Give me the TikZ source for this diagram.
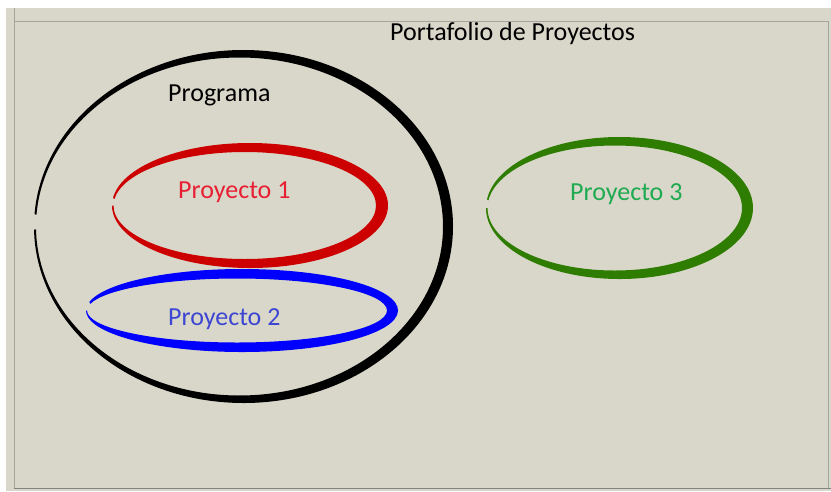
\documentclass[tikz,border=0pt]{standalone}
\usepackage{fontspec}
\setmainfont{Carlito}
\usepackage{tikz}
\usetikzlibrary{positioning}

\definecolor{fondo}{RGB}{217,215,202}
\definecolor{marco}{RGB}{165,164,156}
\definecolor{marcoosc}{RGB}{130,130,126}
\definecolor{rojo}{RGB}{204,0,0}
\definecolor{azul}{RGB}{0,0,255}
\definecolor{verde}{RGB}{46,125,0}
\definecolor{rojotxt}{RGB}{232,30,50}
\definecolor{azultxt}{RGB}{60,70,210}
\definecolor{verdetxt}{RGB}{30,170,80}

\begin{document}
\begin{tikzpicture}[x=1pt,y=-1pt,
    etiqueta/.style={anchor=base west,inner sep=0pt,font=\fontsize{26}{30}\selectfont}]
    \useasboundingbox (0,0) rectangle (831,491);

    % fondo y marco
    \fill[fondo] (6,8) rectangle (831,491);
    \draw[marco,line width=0.8pt] (14,8) -- (14,488);
    \draw[marco,line width=0.8pt] (14,21) -- (828,21) -- (828,488);
    \draw[marcoosc,line width=0.9pt] (14,488) -- (831,488);

    % programa (trazo negro)
    \fill[black] (243.5,226.5) ++(184:209.5 and 176.5)
        arc[start angle=184,end angle=539,x radius=209.5,y radius=176.5]
        -- ([shift={(239.5,226.5)}]539:203.5 and 169)
        arc[start angle=539,end angle=184,x radius=203.5,y radius=169] -- cycle;

    % proyecto 1
    \fill[rojo] (250,205.5) ++(187:138 and 62.5)
        arc[start angle=187,end angle=540,x radius=138,y radius=62.5]
        -- ([shift={(244.75,205.5)}]540:131.25 and 53.5)
        arc[start angle=540,end angle=187,x radius=131.25,y radius=53.5] -- cycle;

    % proyecto 2
    \fill[azul] (242,310.5) ++(192:156 and 41.5)
        arc[start angle=192,end angle=540,x radius=156,y radius=41.5]
        -- ([shift={(237,310.5)}]540:150 and 32)
        arc[start angle=540,end angle=192,x radius=150,y radius=32] -- cycle;

    % proyecto 3
    \fill[verde] (619.5,208) ++(187:133.5 and 71)
        arc[start angle=187,end angle=540,x radius=133.5,y radius=71]
        -- ([shift={(614.75,208)}]540:127.25 and 62.5)
        arc[start angle=540,end angle=187,x radius=127.25,y radius=62.5] -- cycle;

    % textos
    \node[etiqueta] (portafolio) at (390,40) {Portafolio de Proyectos};
    \node[etiqueta] (programa) at (168,101) {Programa};
    \node[etiqueta,text=rojotxt] (proy1) at (178,198) {Proyecto 1};
    \node[etiqueta,text=azultxt] (proy2) at (168,325) {Proyecto 2};
    \node[etiqueta,text=verdetxt] (proy3) at (570,200) {Proyecto 3};
\end{tikzpicture}
\end{document}
